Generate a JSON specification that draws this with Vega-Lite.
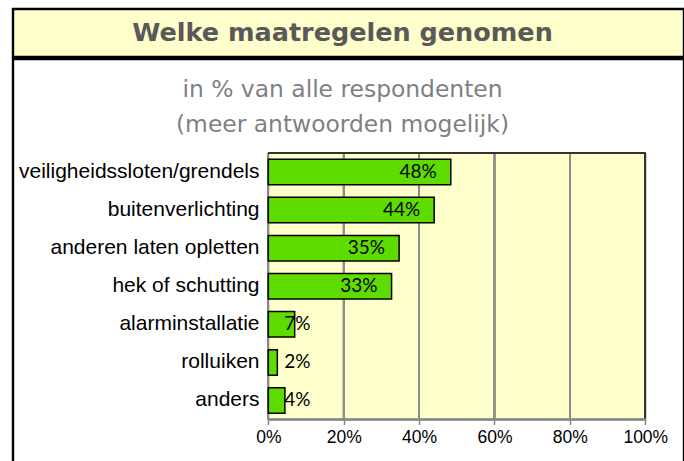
{
  "$schema": "https://vega.github.io/schema/vega-lite/v6.json",
  "padding": {"left": 11, "top": 7, "right": 0, "bottom": 0},
  "autosize": {"type": "pad"},
  "background": "white",
  "spacing": -4.8,
  "config": {"concat": {"spacing": -4.8}},
  "datasets": {
    "m": [
      {"cat": "veiligheidssloten/grendels", "pct": 0.484},
      {"cat": "buitenverlichting", "pct": 0.44},
      {"cat": "anderen laten opletten", "pct": 0.347},
      {"cat": "hek of schutting", "pct": 0.327},
      {"cat": "alarminstallatie", "pct": 0.07},
      {"cat": "rolluiken", "pct": 0.024},
      {"cat": "anders", "pct": 0.044}
    ]
  },
  "vconcat": [
    {
      "width": 671,
      "height": 48,
      "view": {"fill": "#FFFFCC", "stroke": "black", "strokeWidth": 2.4},
      "data": {"values": [{"t": "Welke maatregelen genomen"}]},
      "mark": {"type": "text", "font": "DejaVu Sans", "fontWeight": "bold", "fontSize": 25.5, "color": "#595959", "baseline": "middle", "align": "center", "dx": -6},
      "encoding": {"text": {"field": "t", "type": "nominal"}}
    },
    {
      "width": 671,
      "height": 413,
      "view": {"fill": "white", "stroke": "black", "strokeWidth": 2.4},
      "title": {
        "text": ["in % van alle respondenten", "(meer antwoorden mogelijk)"],
        "offset": -78,
        "dx": -6,
        "font": "DejaVu Sans",
        "fontSize": 23.4,
        "fontWeight": "normal",
        "color": "#7f7f7f",
        "lineHeight": 35,
        "anchor": "middle",
        "frame": "group"
      },
      "data": {"name": "m"},
      "layer": [
        {
          "mark": {"type": "bar", "fill": "#FFFFCC", "stroke": "#FFFFCC", "strokeWidth": 1},
          "encoding": {
            "y": {
              "field": "cat", "type": "nominal", "sort": null,
              "scale": {
                "type": "band",
                "domain": ["veiligheidssloten/grendels", "buitenverlichting", "anderen laten opletten", "hek of schutting", "alarminstallatie", "rolluiken", "anders"],
                "range": [94, 360.5],
                "paddingInner": 0, "paddingOuter": 0
              },
              "axis": {
                "orient": "left", "offset": -255.3, "domain": false, "ticks": false, "tickSize": 0,
                "labelPadding": 9.3, "labelFont": "Liberation Sans", "labelFontSize": 21,
                "labelColor": "black", "labelLimit": 400, "title": null, "grid": false
              }
            },
            "x": {
              "datum": 0, "type": "quantitative",
              "scale": {"domain": [-0.6772, 1.1027], "nice": false, "zero": false},
              "axis": {
                "orient": "bottom", "offset": -52.5, "values": [0, 0.2, 0.4, 0.6, 0.8, 1], "format": ".0%",
                "domain": false, "grid": false, "ticks": true, "tickColor": "#888888", "tickWidth": 1.5, "tickSize": 5,
                "labelPadding": 4, "labelFont": "Liberation Sans", "labelFontSize": 17.5, "labelColor": "black",
                "labelFlush": false, "labelOverlap": false, "title": null
              }
            },
            "x2": {"datum": 1}
          }
        },
        {
          "mark": {"type": "rule", "stroke": "#8c8c8c", "strokeWidth": 1.5},
          "encoding": {"x": {"datum": 0.2, "type": "quantitative"}, "y": {"datum": "veiligheidssloten/grendels", "type": "nominal", "bandPosition": 0}, "y2": {"datum": "anders", "bandPosition": 1}}
        },
        {
          "mark": {"type": "rule", "stroke": "#8c8c8c", "strokeWidth": 1.5},
          "encoding": {"x": {"datum": 0.4, "type": "quantitative"}, "y": {"datum": "veiligheidssloten/grendels", "type": "nominal", "bandPosition": 0}, "y2": {"datum": "anders", "bandPosition": 1}}
        },
        {
          "mark": {"type": "rule", "stroke": "#8c8c8c", "strokeWidth": 1.5},
          "encoding": {"x": {"datum": 0.6, "type": "quantitative"}, "y": {"datum": "veiligheidssloten/grendels", "type": "nominal", "bandPosition": 0}, "y2": {"datum": "anders", "bandPosition": 1}}
        },
        {
          "mark": {"type": "rule", "stroke": "#8c8c8c", "strokeWidth": 1.5},
          "encoding": {"x": {"datum": 0.8, "type": "quantitative"}, "y": {"datum": "veiligheidssloten/grendels", "type": "nominal", "bandPosition": 0}, "y2": {"datum": "anders", "bandPosition": 1}}
        },
        {
          "mark": {"type": "rule", "stroke": "#333333", "strokeWidth": 1.5},
          "encoding": {"x": {"datum": 1, "type": "quantitative"}, "y": {"datum": "veiligheidssloten/grendels", "type": "nominal", "bandPosition": 0}, "y2": {"datum": "anders", "bandPosition": 1}}
        },
        {
          "mark": {"type": "rule", "stroke": "#888888", "strokeWidth": 1.5},
          "encoding": {"x": {"datum": 0, "type": "quantitative"}, "y": {"datum": "veiligheidssloten/grendels", "type": "nominal", "bandPosition": 0}, "y2": {"datum": "anders", "bandPosition": 1}}
        },
        {
          "mark": {"type": "rule", "stroke": "#333333", "strokeWidth": 1.5},
          "encoding": {"x": {"datum": 0, "type": "quantitative"}, "x2": {"datum": 1}, "y": {"datum": "veiligheidssloten/grendels", "type": "nominal", "bandPosition": 0}}
        },
        {
          "mark": {"type": "rule", "stroke": "#888888", "strokeWidth": 1.5},
          "encoding": {"x": {"datum": 0, "type": "quantitative"}, "x2": {"datum": 1}, "y": {"datum": "anders", "type": "nominal", "bandPosition": 1}}
        },
        {
          "mark": {"type": "bar", "fill": "#5EDC00", "stroke": "black", "strokeWidth": 1.5, "height": {"band": 0.67}},
          "encoding": {
            "y": {"field": "cat", "type": "nominal", "sort": null},
            "x": {"field": "pct", "type": "quantitative"},
            "x2": {"datum": 0}
          }
        },
        {
          "transform": [{"filter": "datum.pct > 0.2"}],
          "mark": {"type": "text", "align": "right", "baseline": "middle", "dx": -14, "font": "Lato", "fontSize": 19, "color": "black"},
          "encoding": {
            "y": {"field": "cat", "type": "nominal", "sort": null},
            "x": {"field": "pct", "type": "quantitative"},
            "text": {"field": "pct", "type": "quantitative", "format": ".0%"}
          }
        },
        {
          "transform": [{"filter": "datum.pct <= 0.2"}],
          "mark": {"type": "text", "align": "left", "baseline": "middle", "dx": 16, "font": "Lato", "fontSize": 19, "color": "black"},
          "encoding": {
            "y": {"field": "cat", "type": "nominal", "sort": null},
            "x": {"datum": 0, "type": "quantitative"},
            "text": {"field": "pct", "type": "quantitative", "format": ".0%"}
          }
        }
      ]
    }
  ]
}
